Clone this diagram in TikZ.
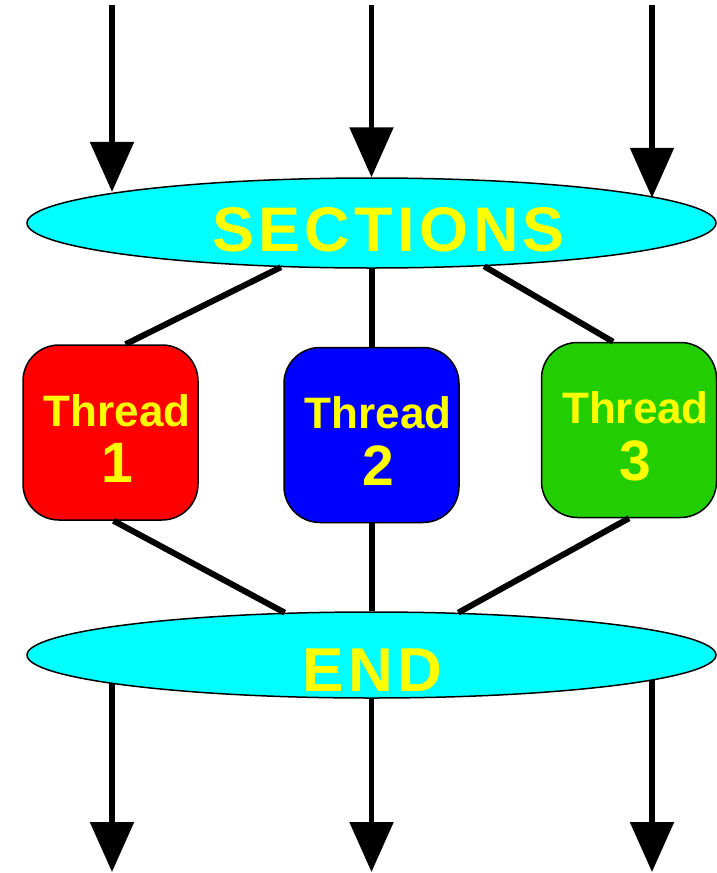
\documentclass[tikz,border=0pt]{standalone}
\usepackage{fontspec}
\setmainfont{Liberation Sans}
\newfontfamily\capsfont[LetterSpace=7]{Liberation Sans}
\usetikzlibrary{shapes.geometric,arrows.meta}
\definecolor{cyanfill}{RGB}{0,255,255}
\definecolor{redfill}{RGB}{255,0,0}
\definecolor{bluefill}{RGB}{0,0,255}
\definecolor{greenfill}{RGB}{34,206,0}
\definecolor{txtyellow}{RGB}{255,255,0}
\newcommand{\shiftbox}[3]{\raisebox{-#2}[\height][\depth]{\kern#1\relax#3\kern-#1\relax}}
\newcommand{\thrlabel}[1]{\shiftbox{6.5pt}{11pt}{\begin{tabular}{@{}c@{}}Thread\\{\fontsize{57pt}{60pt}\selectfont #1}\end{tabular}}}
\tikzset{
  sectbox/.style={ellipse, draw=black, line width=1.5pt, fill=cyanfill, inner sep=0pt,
    minimum width=689pt, text=txtyellow},
  thrbox/.style={draw=black, line width=1.5pt, rounded corners=36pt, minimum width=175pt,
    minimum height=175pt, inner sep=0pt, text=txtyellow,
    font=\fontsize{44pt}{56pt}\selectfont\bfseries},
  conn/.style={line width=6pt},
  arr/.style={line width=5.5pt, -{Triangle[width=43pt,length=50pt]}}
}
\begin{document}
\begin{tikzpicture}[x=1pt,y=-1pt]
\useasboundingbox (0,0) rectangle (717,873);
% nodes
\node[sectbox, minimum height=90pt, font=\fontsize{63pt}{63pt}\selectfont\capsfont\bfseries]
  (sec) at (371.5,223) {\shiftbox{17pt}{6.5pt}{SECTIONS}};
\node[sectbox, minimum height=86pt, font=\fontsize{62pt}{62pt}\selectfont\capsfont\bfseries]
  (endn) at (371.5,655) {\shiftbox{1pt}{15pt}{END}};
\node[thrbox, fill=redfill] (t1) at (110.5,432.5) {\thrlabel{1}};
\node[thrbox, fill=bluefill] (t2) at (371.5,435) {\thrlabel{2}};
\node[thrbox, fill=greenfill] (t3) at (629,430) {\thrlabel{3}};
% free ends
\coordinate (in1) at (112,5);
\coordinate (in2) at (371.5,5);
\coordinate (in3) at (652,5);
\coordinate (out1) at (112,872);
\coordinate (out2) at (371.5,872);
\coordinate (out3) at (652,872);
% connectors
\draw[conn] (sec.206) -- ([xshift=15pt]t1.north);
\draw[conn] (sec.south) -- (t2.north);
\draw[conn] (sec.339) -- ([xshift=-16pt]t3.north);
\draw[conn] ([xshift=3pt]t1.south) -- (endn.154);
\draw[conn] (t2.south) -- (endn.north);
\draw[conn] (t3.south) -- (endn.26);
% arrows
\draw[arr] (in1) -- (in1 |- sec.173);
\draw[arr] (in2) -- (sec.north);
\draw[arr] (in3) -- (in3 |- sec.5);
\draw[arr] (out1 |- endn.186) -- (out1);
\draw[arr] (endn.south) -- (out2);
\draw[arr] (out3 |- endn.355) -- (out3);
\end{tikzpicture}
\end{document}
